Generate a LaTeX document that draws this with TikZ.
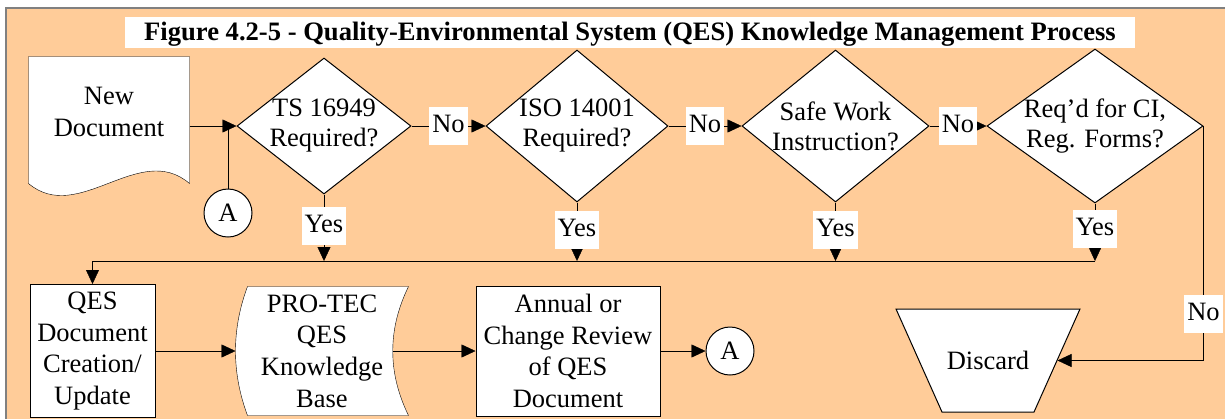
\documentclass[tikz,border=0pt]{standalone}
\usepackage{fontspec}
\setmainfont{Liberation Serif}
\usepackage{tikz}
\usetikzlibrary{positioning,shapes.geometric,arrows.meta,backgrounds}
\usepackage{xcolor}
\definecolor{qestan}{HTML}{FFCC99}
\definecolor{qesgray}{HTML}{808080}

\begin{document}
\begin{tikzpicture}[%
    x=1pt,
    y=-1pt,
    ->,
    >={Triangle[length=14pt,width=13pt]},
    line width=1pt,
    every node/.style={font=\fontsize{26.5}{31.7}\selectfont},
    decision/.style={%
      diamond,
      draw,
      fill=white,
      inner sep=-40pt,
      align=center,
      font=\fontsize{26.5}{30}\selectfont
    },
    process/.style={%
      rectangle,
      draw,
      fill=white,
      align=center,
      inner sep=0pt
    },
    freeform/.style={align=center, inner sep=0pt},
    connector/.style={circle, draw, fill=white, minimum size=48pt, inner sep=0pt},
    lbl/.style={fill=white, inner xsep=3.2pt, inner ysep=6pt, text height=19.5pt, text depth=6.5pt}
  ]
    \useasboundingbox (0,0) rectangle (1225,418);

    \node[fill=white, font=\fontsize{26.6}{31.7}\selectfont\bfseries,
          inner xsep=19pt, inner ysep=0pt, text height=23pt, text depth=8pt]
          (title) at (630,32.5)
          {Figure 4.2-5 - Quality-Environmental System (QES) Knowledge Management Process};

    \node[decision, minimum width=174pt, minimum height=136pt] (ts)  at (324,126)         {TS 16949\\Required?};
    \node[decision, minimum width=182pt, minimum height=152pt] (iso) [right=74pt of ts]  {ISO 14001\\Required?};
    \node[decision, minimum width=187pt, minimum height=152pt] (swi) [right=73pt of iso] {Safe Work\\Instruction?};
    \node[decision, minimum width=216pt, minimum height=154pt] (ci)  [right=57pt of swi] {Req'd for CI,\\Reg. Forms?};

    \node[freeform, minimum width=160pt, minimum height=110pt] (doc) [left=47pt of ts, yshift=14pt] {New\\Document};
    \node[connector] (a1) at (228,213) {A};

    \coordinate (bus) at (92.5,261);
    \node[process, minimum width=125pt, minimum height=133pt] (qes) [below=23pt of bus]  {QES\\Document\\Creation/\\Update};
    \node[freeform, minimum width=172pt, minimum height=128pt] (kb)  [right=80pt of qes] {PRO-TEC\\QES\\Knowledge\\Base};
    \node[process, minimum width=184pt, minimum height=130pt] (rev) [right=67pt of kb]  {Annual or\\Change Review\\of QES\\Document};
    \node[connector] (a2) [right=45pt of rev] {A};

    \node[trapezium, draw, fill=white, shape border rotate=180, trapezium angle=65.94,
          text height=18pt, text depth=0pt, inner xsep=4.8pt, inner ysep=42.5pt]
          (discard) at (988,360.5) {Discard};

    % frame and the hand drawn shapes
    \begin{pgfonlayer}{background}
      \draw[-, draw=qesgray, line width=1.5pt, fill=qestan] (6,8) rectangle (1250,450);
      \draw[-, fill=white] (doc.north west) -- (doc.north east) -- ([yshift=-16pt]doc.south east)
          .. controls +(-50,-43) and +(50,42) .. ([yshift=-16pt]doc.south west) -- cycle;
      \draw[-, fill=white] ([xshift=12pt]kb.north west) -- (kb.north east)
          .. controls +(-21,43) and +(-21,-43) .. (kb.south east)
          -- ([xshift=12pt]kb.south west)
          .. controls +(-16,-43) and +(-16,43) .. ([xshift=12pt]kb.north west) -- cycle;
    \end{pgfonlayer}

    \path (doc.east |- ts) edge (ts.west)
          (a1) edge [-] (a1 |- ts)
          (ts.east)  edge node[lbl] {No} (iso.west)
          (iso.east) edge node[lbl] {No} (swi.west)
          (swi.east) edge node[lbl] {No} (ci.west)
          (ts.south)  edge node[lbl, pos=.47] {Yes} (ts.south |- bus)
          (iso.south) edge node[lbl, pos=.47] {Yes} (iso.south |- bus)
          (swi.south) edge node[lbl, pos=.47] {Yes} (swi.south |- bus)
          (ci.south)  edge node[lbl, pos=.45] {Yes} (ci.south |- bus)
          (qes) edge (kb)
          ([xshift=-16pt]kb.east) edge (rev)
          (rev) edge (a2)
          ;
    \draw (ci.south |- bus) -| (qes.north);
    \draw (ci.east) |- node[lbl, pos=.4] {No} (discard);
\end{tikzpicture}
\end{document}
